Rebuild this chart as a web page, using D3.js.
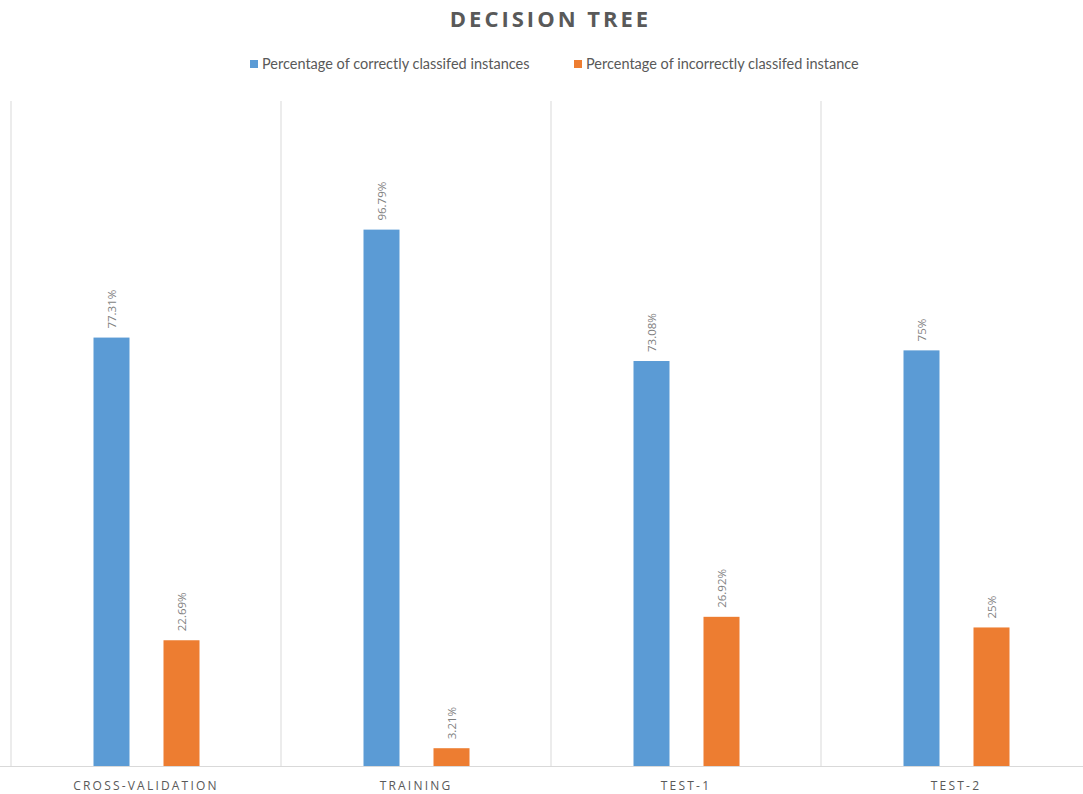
<!DOCTYPE html>
<html>
<head>
<meta charset="utf-8">
<script src="https://cdn.jsdelivr.net/npm/d3@7"></script>
<style>
  html, body { margin: 0; padding: 0; background: #fff; }
  svg { display: block; font-family: "Open Sans", "Noto Sans", sans-serif; }
</style>
</head>
<body>
<svg id="chart" width="1083" height="794"></svg>
<script>
// Data
const categories = ["CROSS-VALIDATION", "TRAINING", "TEST-1", "TEST-2"];
const seriesNames = [
  "Percentage of correctly classifed instances",
  "Percentage of incorrectly classifed instance"
];
const correct = [77.31, 96.79, 73.08, 75];
const incorrect = [22.69, 3.21, 26.92, 25];
const valueLabels = [
  ["77.31%", "96.79%", "73.08%", "75%"],
  ["22.69%", "3.21%", "26.92%", "25%"]
];
const colors = ["#5b9bd5", "#ed7d31"];

const svg = d3.select("#chart");
const W = 1083, H = 794;
const plot = { left: 11, right: 1091, top: 101, bottom: 766 };

const x0 = d3.scaleBand().domain(categories).range([plot.left, plot.right]).padding(0);
const x1 = d3.scaleBand().domain(seriesNames).range([82.5, 188.5]).paddingInner(34 / 70).paddingOuter(0);
const y = d3.scaleLinear().domain([0, 120]).range([plot.bottom, plot.top]);

// Title
svg.append("text")
  .attr("x", W / 2 + 9).attr("y", 27)
  .attr("text-anchor", "middle")
  .attr("font-size", 22).attr("font-weight", "bold")
  .attr("letter-spacing", 3)
  .attr("fill", "#595959")
  .text("DECISION TREE");

// Legend
const legendItems = [
  { name: seriesNames[0], color: colors[0], x: 250 },
  { name: seriesNames[1], color: colors[1], x: 574 }
];
const lg = svg.append("g");
legendItems.forEach(d => {
  lg.append("rect").attr("x", d.x).attr("y", 60).attr("width", 8).attr("height", 8).attr("fill", d.color);
  lg.append("text").attr("x", d.x + 12).attr("y", 69)
    .attr("font-size", 14.5).attr("fill", "#595959")
    .attr("font-family", "Lato, sans-serif")
    .attr("textLength", null)
    .text(d.name);
});

// Vertical category separators
const seps = categories.map(c => x0(c)).concat([plot.right]);
svg.append("g").selectAll("line").data(seps).join("line")
  .attr("x1", d => d).attr("x2", d => d)
  .attr("y1", plot.top).attr("y2", plot.bottom)
  .attr("stroke", "#d9d9d9").attr("stroke-width", 1);

// Bars
const rows = categories.map((c, i) => ({ cat: c, vals: [correct[i], incorrect[i]], labels: [valueLabels[0][i], valueLabels[1][i]] }));
const groups = svg.append("g").selectAll("g").data(rows).join("g")
  .attr("transform", d => `translate(${x0(d.cat)},0)`);

groups.selectAll("rect").data(d => d.vals.map((v, k) => ({ v, k, label: d.labels[k] }))).join("rect")
  .attr("x", d => x1(seriesNames[d.k]))
  .attr("width", x1.bandwidth())
  .attr("y", d => y(d.v))
  .attr("height", d => y(0) - y(d.v))
  .attr("fill", d => colors[d.k]);

// Value labels, rotated
groups.selectAll("text.val").data(d => d.vals.map((v, k) => ({ v, k, label: d.labels[k] }))).join("text")
  .attr("class", "val")
  .attr("transform", d => `translate(${x1(seriesNames[d.k]) + x1.bandwidth() / 2 + 4},${y(d.v) - 9}) rotate(-90)`)
  .attr("text-anchor", "start")
  .attr("font-size", 11.5)
  .attr("fill", "#7f7f7f")
  .text(d => d.label);

// Baseline
svg.append("line")
  .attr("x1", 0).attr("x2", W)
  .attr("y1", plot.bottom + 0.5).attr("y2", plot.bottom + 0.5)
  .attr("stroke", "#d9d9d9").attr("stroke-width", 1);

// Category axis labels
const xAxis = d3.axisBottom(x0).tickSize(0).tickPadding(15);
const ax = svg.append("g").attr("transform", `translate(0,${plot.bottom})`).call(xAxis);
ax.select(".domain").remove();
ax.selectAll("text")
  .attr("font-size", 12)
  .attr("font-family", "\"Open Sans\", sans-serif")
  .attr("letter-spacing", 2.2)
  .attr("fill", "#595959");
</script>
</body>
</html>
